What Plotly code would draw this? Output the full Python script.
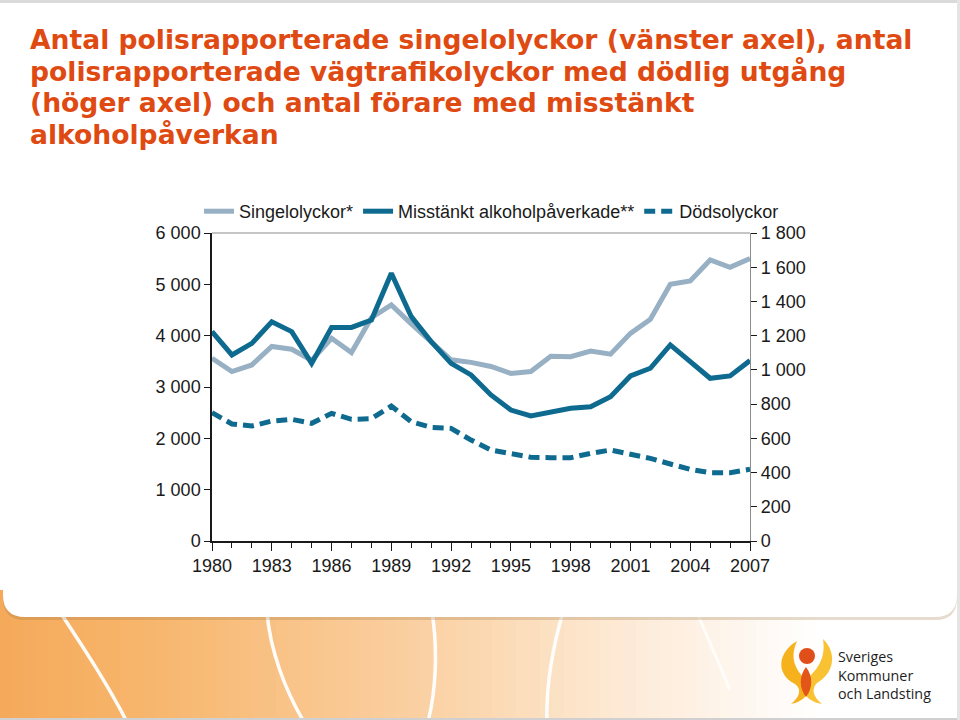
import plotly.graph_objects as go

years = list(range(1980, 2008))
singel = [3560, 3300, 3430, 3790, 3735, 3520, 3950, 3670, 4350, 4600, 4230, 3870, 3530, 3480,
          3400, 3265, 3300, 3600, 3590, 3700, 3640, 4045, 4320, 5000, 5065, 5475, 5330, 5505]
alkohol = [4080, 3625, 3850, 4270, 4080, 3460, 4160, 4160, 4305, 5215, 4370, 3885, 3460, 3235,
           2845, 2550, 2435, 2500, 2585, 2615, 2810, 3215, 3365, 3820, 3495, 3170, 3215, 3515]
dods = [750, 684, 672, 701, 711, 688, 746, 711, 715, 789, 697, 664, 658, 590,
        532, 512, 489, 487, 487, 512, 532, 507, 483, 450, 419, 399, 399, 419]
names = ["Singelolyckor*", "Misstänkt alkoholpåverkade**", "Dödsolyckor"]
title_lines = [
    "Antal polisrapporterade singelolyckor (vänster axel), antal",
    "polisrapporterade vägtrafikolyckor med dödlig utgång",
    "(höger axel) och antal förare med misstänkt",
    "alkoholpåverkan",
]
logo_text = ["Sveriges", "Kommuner", "och Landsting"]
x_ticks = list(range(1980, 2008, 3))

W, H = 960, 720
L, R, T, B = 212, 750, 233, 541


def px(x):
    return (x - L) / (R - L)


def py(y):
    return (B - y) / (B - T)


LIGHT = "#97B0C4"
DARK = "#0E6A8F"
TITLE_C = "#DF4A12"

fig = go.Figure()
fig.add_trace(go.Scatter(x=years, y=singel, name=names[0], mode="lines",
                         line=dict(color=LIGHT, width=5)))
fig.add_trace(go.Scatter(x=years, y=alkohol, name=names[1], mode="lines",
                         line=dict(color=DARK, width=5)))
fig.add_trace(go.Scatter(x=years, y=dods, name=names[2], mode="lines", yaxis="y2",
                         line=dict(color=DARK, width=5, dash="11px,6px")))

shapes = []
# bottom orange gradient background
stops = [(0, (245, 170, 90)), (160, (247, 183, 110)), (320, (249, 198, 142)),
         (470, (251, 214, 174)), (600, (253, 231, 208)), (720, (254, 244, 234)),
         (820, (255, 255, 255)), (960, (255, 255, 255))]


def col_at(x):
    for (x0, c0), (x1, c1) in zip(stops[:-1], stops[1:]):
        if x0 <= x <= x1:
            t = (x - x0) / (x1 - x0)
            return "rgb(%d,%d,%d)" % tuple(round(a + (b - a) * t) for a, b in zip(c0, c1))
    return "white"


step = 12
for x0 in range(0, W, step):
    shapes.append(dict(type="rect", xref="paper", yref="paper", layer="below",
                       x0=px(x0), x1=px(x0 + step + 1), y0=py(720), y1=py(590),
                       fillcolor=col_at(x0 + step / 2), line=dict(width=0)))


def path(pts):
    s = "M %f,%f" % (px(pts[0][0]), py(pts[0][1]))
    i = 1
    while i < len(pts):
        a, b, c = pts[i], pts[i + 1], pts[i + 2]
        s += " C %f,%f %f,%f %f,%f" % (px(a[0]), py(a[1]), px(b[0]), py(b[1]), px(c[0]), py(c[1]))
        i += 3
    return s


curves = [
    [(60, 612), (85, 650), (108, 685), (127, 722)],
    [(267, 612), (270, 650), (285, 690), (304, 722)],
    [(432, 612), (438, 650), (436, 690), (428, 722)],
    [(563, 612), (552, 650), (546, 690), (547, 722)],
]
for c in curves:
    shapes.append(dict(type="path", xref="paper", yref="paper", layer="below",
                       path=path(c), line=dict(color="rgba(255,255,255,0.95)", width=3.5)))
shapes.append(dict(type="path", xref="paper", yref="paper", layer="below",
                   path=path([(697, 612), (708, 640), (718, 660), (730, 690)]),
                   line=dict(color="rgba(255,255,255,0.8)", width=3)))


def panel_path(dx, dy):
    r = 22
    x0, x1, y0, y1 = 3 + dx, 957 + dx, 0 + dy, 617 + dy
    return ("M %f,%f L %f,%f L %f,%f Q %f,%f %f,%f L %f,%f Q %f,%f %f,%f Z" % (
        px(x0), py(y0), px(x1), py(y0), px(x1), py(y1 - r), px(x1), py(y1), px(x1 - r), py(y1),
        px(x0 + r), py(y1), px(x0), py(y1), px(x0), py(y1 - r)))


shapes.append(dict(type="path", xref="paper", yref="paper", layer="below",
                   path=panel_path(0, 3), fillcolor="rgba(150,110,60,0.25)", line=dict(width=0)))
shapes.append(dict(type="path", xref="paper", yref="paper", layer="below",
                   path=panel_path(0, 0), fillcolor="white", line=dict(width=0)))
# frame lines
shapes.append(dict(type="rect", xref="paper", yref="paper", layer="below",
                   x0=px(0), x1=px(960), y0=py(3), y1=py(0), fillcolor="#DADADA", line=dict(width=0)))
shapes.append(dict(type="rect", xref="paper", yref="paper", layer="below",
                   x0=px(0), x1=px(960), y0=py(720), y1=py(718), fillcolor="#D0D0D0", line=dict(width=0)))
shapes.append(dict(type="rect", xref="paper", yref="paper", layer="below",
                   x0=px(957), x1=px(960), y0=py(720), y1=py(0), fillcolor="#E4E4E4", line=dict(width=0)))
# top border of plot area
shapes.append(dict(type="line", xref="paper", yref="paper", x0=0, x1=1, y0=1, y1=1,
                   line=dict(color="#8C8C8C", width=1.2)))

# logo
YEL = "#F6B21C"
shapes.append(dict(type="path", xref="paper", yref="paper",
                   path=path([(797, 641), (778, 652), (775, 674), (795, 684),
                              (802, 689), (800, 697), (791, 704),
                              (808, 701), (812, 688), (806, 680),
                              (796, 670), (789, 659), (797, 641)]),
                   fillcolor=YEL, line=dict(width=0)))
shapes.append(dict(type="path", xref="paper", yref="paper",
                   path=path([(823, 639), (837, 652), (835, 673), (817, 683),
                              (811, 689), (813, 697), (822, 704),
                              (804, 701), (800, 688), (806, 680),
                              (818, 669), (826, 658), (823, 639)]),
                   fillcolor="#F9C233", line=dict(width=0)))
shapes.append(dict(type="path", xref="paper", yref="paper",
                   path=path([(806, 667), (813, 676), (813, 688), (806, 697),
                              (799, 688), (799, 676), (806, 667)]),
                   fillcolor="#E2561A", line=dict(width=0)))
shapes.append(dict(type="circle", xref="paper", yref="paper",
                   x0=px(799), x1=px(815), y0=py(664), y1=py(648),
                   fillcolor="#E04E1A", line=dict(width=0)))

annotations = []
title_y = [39, 71, 102, 134]
for t, yy in zip(title_lines, title_y):
    annotations.append(dict(text=t, xref="paper", yref="paper", x=px(28), y=py(yy),
                            xanchor="left", yanchor="middle", showarrow=False,
                            font=dict(family="DejaVu Sans", size=26.6, color=TITLE_C, weight="bold")))
annotations.append(dict(text="<br>".join(logo_text), xref="paper", yref="paper",
                        x=px(836), y=py(675), xanchor="left", yanchor="middle", align="left",
                        showarrow=False,
                        font=dict(family="Open Sans", size=14.3, color="#1E1E1E")))

TICKF = dict(family="Liberation Sans", size=18, color="#1A1A1A")
fig.update_layout(
    width=W, height=H,
    margin=dict(l=L, r=W - R, t=T, b=H - B, pad=0),
    paper_bgcolor="white", plot_bgcolor="rgba(0,0,0,0)",
    separators=", ",
    showlegend=True,
    legend=dict(orientation="h", x=px(199), y=py(193), xanchor="left", yanchor="top",
                font=dict(family="Liberation Sans", size=18, color="#1A1A1A"),
                bgcolor="rgba(0,0,0,0)", itemwidth=30, tracegroupgap=0),
    xaxis=dict(range=[1980, 2007], tickvals=x_ticks, ticks="outside", ticklen=8, tickwidth=1.3,
               tickcolor="#1A1A1A", showline=True, linecolor="#1A1A1A", linewidth=1.5,
               showgrid=False, zeroline=False, tickfont=TICKF,
               minor=dict(dtick=1, tick0=1980, ticks="outside", ticklen=5, tickwidth=1.2,
                          tickcolor="#1A1A1A", showgrid=False)),
    yaxis=dict(range=[0, 6000], dtick=1000, tickformat=",d", ticks="outside", ticklen=6,
               tickwidth=1.2, tickcolor="#1A1A1A", showline=True, linecolor="#1A1A1A",
               linewidth=1.5, showgrid=False, zeroline=False, tickfont=TICKF),
    yaxis2=dict(range=[0, 1800], dtick=200, tickformat=",d", overlaying="y", side="right",
                ticks="outside", ticklen=6, tickwidth=1.2, tickcolor="#1A1A1A",
                showline=True, linecolor="#8C8C8C", linewidth=1.2, showgrid=False,
                zeroline=False, tickfont=TICKF),
    shapes=shapes,
    annotations=annotations,
)

fig.write_html("out.html")
